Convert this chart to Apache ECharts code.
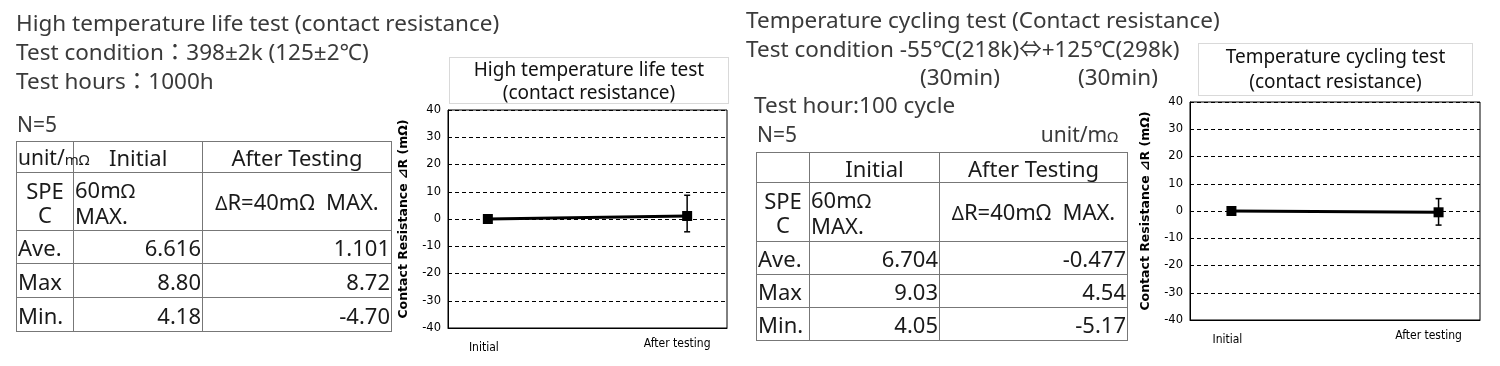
<!DOCTYPE html>
<html><head><meta charset="utf-8">
<script src="https://cdn.jsdelivr.net/npm/echarts@6/dist/echarts.min.js"></script>
<style>
html,body{margin:0;padding:0;background:#fff;width:1500px;height:366px;overflow:hidden;}
#chart{position:absolute;left:0;top:0;width:1500px;height:366px;}
.t{position:absolute;white-space:nowrap;font-family:"Noto Sans","Noto Sans CJK JP",sans-serif;color:#3a3a3a;font-size:22.5px;line-height:28px;}
table{position:absolute;border-collapse:collapse;font-family:"Noto Sans","Noto Sans CJK JP",sans-serif;font-size:22px;color:#1a1a1a;table-layout:fixed;}
td{border:1px solid #777;padding:0 1px;white-space:nowrap;overflow:visible;line-height:24px;}
.r{text-align:right;}
.c{text-align:center;}
.box{position:absolute;border:1px solid #d9d9d9;font-family:"Noto Sans","Noto Sans CJK JP",sans-serif;font-size:19px;color:#111;text-align:center;line-height:23px;box-sizing:border-box;}
</style></head>
<body>
<div id="chart"></div>
<div id="overlay"></div>
<script>
// ---- data ----
const xCategories = ['Initial', 'After testing'];
const yTickValues = [-40, -30, -20, -10, 0, 10, 20, 30, 40];

const htlTitle = ['High temperature life test (contact resistance)', 'Test condition：398±2k (125±2℃)', 'Test hours：1000h'];
const htlChartTitle = ['High temperature life test', '(contact resistance)'];
const htlInitial = ['6.616', '8.80', '4.18'];
const htlAfter = ['1.101', '8.72', '-4.70'];
const htlDeltaAve = [0, 1.101];
const htlDeltaMax = [null, 8.72];
const htlDeltaMin = [null, -4.70];

const tcTitle = ['Temperature cycling test (Contact resistance)', 'Test condition -55℃(218k)⇔+125℃(298k)', 'Test hour:100 cycle'];
const tcChartTitle = ['Temperature cycling test', '(contact resistance)'];
const tcInitial = ['6.704', '9.03', '4.05'];
const tcAfter = ['-0.477', '4.54', '-5.17'];
const tcDeltaAve = [0, -0.477];
const tcDeltaMax = [null, 4.54];
const tcDeltaMin = [null, -5.17];

const rowLabels = ['Ave.', 'Max', 'Min.'];

// ---- HTML text & tables ----
const ov = document.getElementById('overlay');
function txt(s, x, cy, extra) {
  const d = document.createElement('div');
  d.className = 't';
  d.textContent = s;
  d.style.left = x + 'px';
  d.style.top = (cy - 14) + 'px';
  if (extra) Object.assign(d.style, extra);
  ov.appendChild(d);
  return d;
}
txt(htlTitle[0], 16, 23);
txt(htlTitle[1], 16, 52);
txt(htlTitle[2], 16, 81);
txt('N=5', 17, 124, {fontSize: '21px'});

txt(tcTitle[0], 746, 20);
txt(tcTitle[1], 746, 49);
txt('(30min)', 920, 77);
txt('(30min)', 1078, 77);
txt(tcTitle[2], 754, 105);
txt('N=5', 757, 134, {fontSize: '21px'});
const u = txt('', 0, 134, {fontSize: '21px'});
u.innerHTML = 'unit/m<span style="font-size:15px">Ω</span>';
u.style.left = 'auto'; u.style.right = (1500 - 1118) + 'px';

function buildTable(left, top, cols, rows, headerFirst, initVals, afterVals, headerInitialStyle) {
  const t = document.createElement('table');
  t.style.left = left + 'px'; t.style.top = top + 'px';
  let h = '<colgroup>' + cols.map(w => `<col style="width:${w}px">`).join('') + '</colgroup>';
  h += `<tr style="height:${rows[0]}px"><td style="position:relative">${headerFirst}</td><td ${headerInitialStyle}>Initial</td><td class="c">After Testing</td></tr>`;
  h += `<tr style="height:${rows[1]}px"><td class="c">SPE<br>C</td><td>60m<span style="font-size:20px">Ω</span><br>MAX.</td><td class="c"><span style="font-size:19px">Δ</span>R=40m<span style="font-size:21px">Ω</span>&nbsp; MAX.</td></tr>`;
  for (let i = 0; i < rowLabels.length; i++) {
    h += `<tr style="height:${rows[i + 2]}px"><td>${rowLabels[i]}</td><td class="r">${initVals[i]}</td><td class="r">${afterVals[i]}</td></tr>`;
  }
  t.innerHTML = h;
  ov.appendChild(t);
}
buildTable(16, 141, [57, 129, 189], [31, 58, 33, 34, 34],
  '<span style="position:absolute;left:1px;top:3px;font-size:21px">unit/<span style="font-size:15px">mΩ</span></span>',
  htlInitial, htlAfter, 'style="padding-left:35px"');
buildTable(756, 152, [53, 130, 188], [30, 59, 33, 33, 33], '', tcInitial, tcAfter, 'class="c"');

function box(lines, x, y, w, h, pad, lh) {
  const d = document.createElement('div');
  d.className = 'box';
  d.style.left = x + 'px'; d.style.top = y + 'px';
  d.style.width = w + 'px'; d.style.height = h + 'px';
  d.style.paddingTop = pad + 'px';
  d.style.lineHeight = lh + 'px';
  d.innerHTML = lines.join('<br>');
  ov.appendChild(d);
}
box(htlChartTitle, 449, 57, 280, 47, 0, 23);
box(tcChartTitle, 1198, 43, 275, 53, 0, 25);

// ---- charts ----
const chart = echarts.init(document.getElementById('chart'), null, {renderer: 'canvas'});
const condFont = '"DejaVu Sans Condensed","DejaVu Sans",sans-serif';
const tickFont = '"DejaVu Sans",sans-serif';
const grids = [
  {left: 448, top: 110, width: 279, height: 218},
  {left: 1190, top: 102, width: 290, height: 218}
];
function xAxisCfg(gi) {
  return {
    type: 'value', gridIndex: gi, min: -0.2, max: 1.2,
    axisLine: {show: true, onZero: false, lineStyle: {color: '#000', width: 1}},
    axisTick: {show: false}, splitLine: {show: false},
    axisLabel: {
      customValues: [0, 1], margin: 10, color: '#000', fontFamily: condFont, fontSize: 12,
      formatter: v => v < 0.5 ? '{a|' + xCategories[0] + '}' : '{b|' + xCategories[1] + '}',
      rich: {a: {padding: [4, 8, 0, 0], fontFamily: condFont, fontSize: 12, color: '#000'},
             b: {padding: [0, 20, 0, 0], fontFamily: condFont, fontSize: 12, color: '#000'}}
    }
  };
}
function yAxisCfg(gi) {
  return {
    type: 'value', gridIndex: gi, min: -40, max: 40, interval: 10,
    name: 'Contact Resistance ⊿R (mΩ)', nameLocation: 'middle', nameGap: 38, nameRotate: 90,
    nameTextStyle: {fontFamily: tickFont, fontWeight: 'bold', fontSize: 12.5, color: '#000'},
    axisLine: {show: true, onZero: false, lineStyle: {color: '#000', width: 1}},
    axisTick: {show: false},
    axisLabel: {color: '#000', fontFamily: tickFont, fontSize: 11.5, margin: 7},
    splitLine: {show: true, lineStyle: {color: '#000', type: [4, 3], width: 1}}
  };
}
function lineSeries(gi, vals) {
  return {
    type: 'line', xAxisIndex: gi, yAxisIndex: gi,
    data: vals.map((v, i) => [i, v]),
    symbol: 'rect', symbolSize: 10, showSymbol: true,
    lineStyle: {color: '#000', width: 3}, itemStyle: {color: '#000'},
    silent: true, animation: false, z: 5
  };
}
function errSeries(gi, hi, lo) {
  const data = [];
  hi.forEach((h, i) => { if (h !== null) data.push([i, h, lo[i]]); });
  return {
    type: 'custom', xAxisIndex: gi, yAxisIndex: gi, data, animation: false, z: 6,
    renderItem: (params, api) => {
      const x = api.value(0);
      const pH = api.coord([x, api.value(1)]);
      const pL = api.coord([x, api.value(2)]);
      const st = {stroke: '#000', lineWidth: 1.5};
      return {type: 'group', children: [
        {type: 'line', shape: {x1: pH[0], y1: pH[1], x2: pL[0], y2: pL[1]}, style: st},
        {type: 'line', shape: {x1: pH[0] - 3, y1: pH[1], x2: pH[0] + 3, y2: pH[1]}, style: st},
        {type: 'line', shape: {x1: pL[0] - 3, y1: pL[1], x2: pL[0] + 3, y2: pL[1]}, style: st}
      ]};
    }
  };
}
chart.setOption({
  animation: false,
  grid: grids.map(g => Object.assign({show: true, borderColor: '#000', borderWidth: 1, backgroundColor: '#fff'}, g)),
  xAxis: [xAxisCfg(0), xAxisCfg(1)],
  yAxis: [yAxisCfg(0), yAxisCfg(1)],
  series: [
    lineSeries(0, htlDeltaAve), errSeries(0, htlDeltaMax, htlDeltaMin),
    lineSeries(1, tcDeltaAve), errSeries(1, tcDeltaMax, tcDeltaMin)
  ]
});
</script>
</body></html>
